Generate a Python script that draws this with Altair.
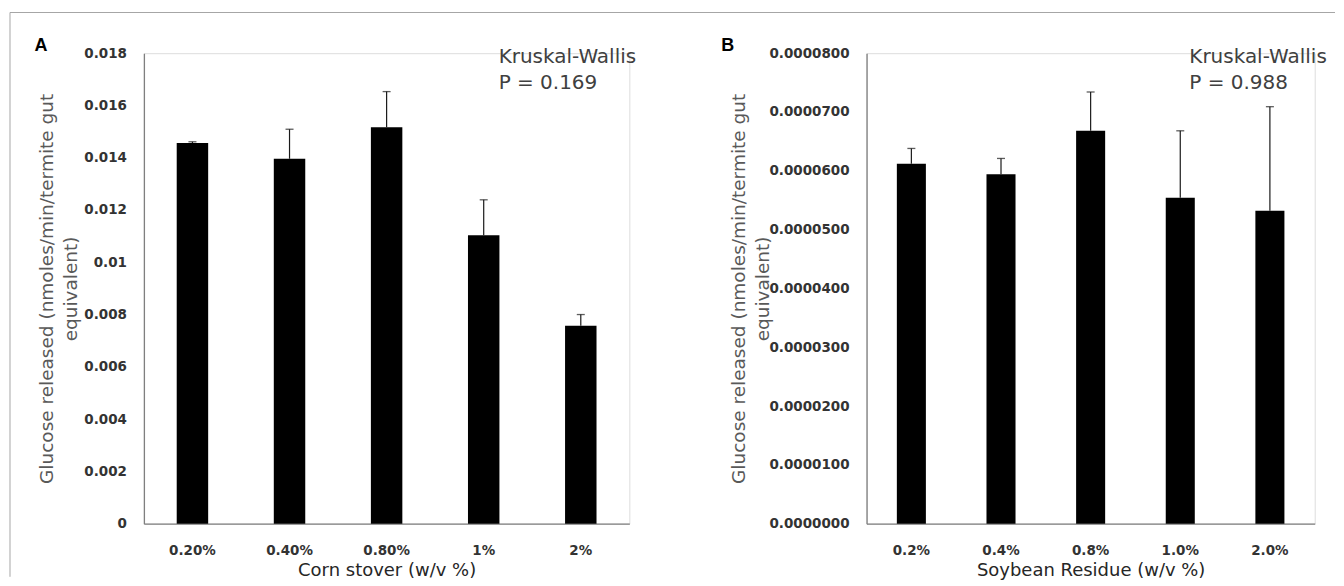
import altair as alt
import pandas as pd

# ---- data ----
conc_a = ["0.20%", "0.40%", "0.80%", "1%", "2%"]
mean_a = [0.01456, 0.01396, 0.01517, 0.01103, 0.00757]
upper_a = [0.01461, 0.01509, 0.01653, 0.01239, 0.00800]
yticks_a = [0, 0.002, 0.004, 0.006, 0.008, 0.01, 0.012, 0.014, 0.016, 0.018]

conc_b = ["0.2%", "0.4%", "0.8%", "1.0%", "2.0%"]
mean_b = [0.0000612, 0.0000594, 0.0000668, 0.0000554, 0.0000532]
upper_b = [0.0000638, 0.0000621, 0.0000734, 0.0000668, 0.0000709]
yticks_b = [0, 0.00001, 0.00002, 0.00003, 0.00004, 0.00005, 0.00006, 0.00007, 0.00008]

xtitle_a = "Corn stover (w/v %)"
xtitle_b = "Soybean Residue (w/v %)"
ytitle = ["Glucose released (nmoles/min/termite gut", "equivalent)"]
stats_a = "Kruskal-Wallis\nP = 0.169"
stats_b = "Kruskal-Wallis\nP = 0.988"

H = 470.8
AXIS_GRAY = "#7f7f7f"


def panel(cats, means, uppers, yticks, ymax, fmt, xtitle, letter, stats,
          w, title_x, letter_x, stats_x, frame=False):
    df = pd.DataFrame({"c": cats, "m": means, "u": uppers})
    one = pd.DataFrame({"z": [0]})

    x = alt.X(
        "c:N", sort=cats,
        scale=alt.Scale(paddingInner=0.676, paddingOuter=0.338),
        axis=alt.Axis(
            title=xtitle, labelAngle=0, ticks=False, tickSize=0,
            labelFont="DejaVu Sans", labelFontWeight="bold", labelFontSize=13.5,
            labelColor="#333333", labelPadding=20,
            domainColor=AXIS_GRAY, domainWidth=1.3,
            titleFont="DejaVu Sans", titleFontSize=18, titleFontWeight="normal",
            titleColor="#262626", titleX=w / 2, titleY=52,
            titleAlign="center", titleBaseline="alphabetic",
        ),
    )
    y = alt.Y(
        "m:Q",
        scale=alt.Scale(domain=[0, ymax], nice=False, zero=True),
        axis=alt.Axis(
            values=yticks, format=fmt, grid=False, ticks=False, tickSize=0,
            labelFont="DejaVu Sans", labelFontWeight="bold", labelFontSize=13.5,
            labelColor="#333333", labelPadding=17.5,
            domainColor=AXIS_GRAY, domainWidth=1.3,
            title=ytitle, titleFont="DejaVu Sans", titleFontSize=18.5,
            titleFontWeight="normal", titleColor="#595959", titleLineHeight=24,
            titleAngle=270, titleAlign="center", titleBaseline="middle",
            titleX=title_x, titleY=H / 2,
        ),
    )
    base = alt.Chart(df)
    bars = base.mark_bar(color="black").encode(x=x, y=y)
    err = base.mark_rule(color="#1a1a1a", strokeWidth=1.2).encode(
        x="c:N", y="m:Q", y2="u:Q")
    cap = base.mark_tick(color="#1a1a1a", thickness=1.3, size=8).encode(
        x="c:N", y="u:Q")

    txt = alt.Chart(one).mark_text(
        text=stats, lineBreak="\n", lineHeight=26, align="left",
        baseline="alphabetic", font="DejaVu Sans", fontSize=20, color="#404040",
    ).encode(x=alt.value(stats_x), y=alt.value(9.5))
    lab = alt.Chart(one).mark_text(
        text=letter, align="center", baseline="middle",
        font="Liberation Sans", fontWeight="bold", fontSize=18, color="black",
    ).encode(x=alt.value(letter_x), y=alt.value(-7.2))

    layers = [bars, err, cap, txt, lab]
    if frame:
        top = alt.Chart(one).mark_rule(color="#a6a6a6", strokeWidth=1).encode(
            x=alt.value(-134), x2=alt.value(1192), y=alt.value(-40.7))
        left = alt.Chart(one).mark_rule(color="#a6a6a6", strokeWidth=1).encode(
            x=alt.value(-134), y=alt.value(-40.7), y2=alt.value(524))
        layers = [top, left] + layers
    return alt.layer(*layers).properties(width=w, height=H)


pa = panel(conc_a, mean_a, upper_a, yticks_a, 0.018, "~g", xtitle_a, "A",
           stats_a, 485.8, -97, -103, 355, frame=True)
pb = panel(conc_b, mean_b, upper_b, yticks_b, 0.00008, ".7f", xtitle_b, "B",
           stats_b, 448.5, -128, -139, 323)

chart = alt.hconcat(pa, pb, spacing=237.2, bounds="flush").properties(
    padding={"left": 1, "top": 3, "right": 0, "bottom": 0}
).configure_view(stroke=None).configure(background="white")

chart.save("out.html", embed_options={"renderer": "svg", "actions": False})
